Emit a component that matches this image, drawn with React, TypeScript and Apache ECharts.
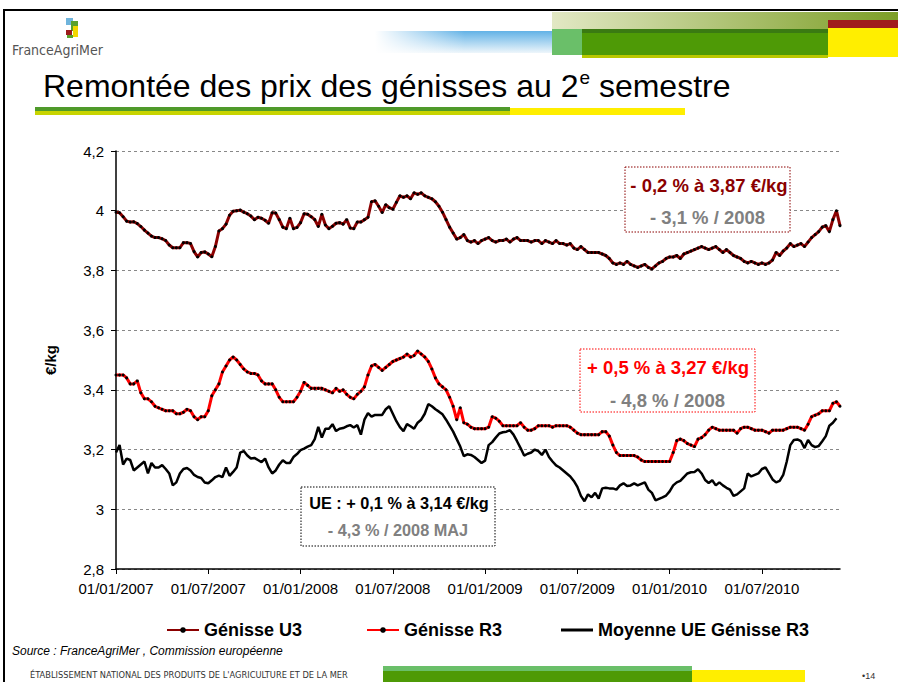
import React, { useEffect, useRef } from 'react';
import * as echarts from 'echarts';

// Tick labels on the x axis: one every 26 weeks
const tickLabels = ['01/01/2007', '01/07/2007', '01/01/2008', '01/07/2008', '01/01/2009', '01/07/2009', '01/01/2010', '01/07/2010'];
const weeksPerTick = 26;

const seriesNames = ['Génisse U3', 'Génisse R3', 'Moyenne UE Génisse R3'];

// Weekly prices, €/kg, from week of 01/01/2007
const genisseU3 = [
  3.995, 3.993, 3.98, 3.965, 3.962, 3.963, 3.957, 3.947, 3.935, 3.925,
  3.915, 3.91, 3.91, 3.906, 3.9, 3.885, 3.876, 3.876, 3.876, 3.893,
  3.893, 3.89, 3.863, 3.845, 3.86, 3.862, 3.855, 3.846, 3.88, 3.932,
  3.94, 3.955, 3.985, 3.998, 4.0, 4.002, 3.995, 3.99, 3.982, 3.97,
  3.978, 3.975, 3.968, 3.958, 3.993, 3.992, 3.97, 3.945, 3.94, 3.975,
  3.94, 3.944, 3.96, 3.99, 3.988, 3.98, 3.97, 3.947, 3.988, 3.952,
  3.94, 3.948, 3.958, 3.96, 3.955, 3.97, 3.942, 3.94, 3.962, 3.962,
  3.97, 3.978, 4.03, 4.033, 4.015, 3.994, 4.02, 4.01, 4.005, 4.028,
  4.05, 4.045, 4.05, 4.04, 4.06, 4.055, 4.06, 4.05, 4.045, 4.04,
  4.03, 4.015, 3.995, 3.97, 3.945, 3.925, 3.905, 3.91, 3.92, 3.9,
  3.895, 3.9, 3.89, 3.9, 3.905, 3.91, 3.9, 3.895, 3.9, 3.9,
  3.905, 3.895, 3.905, 3.91, 3.9, 3.9, 3.9, 3.895, 3.9, 3.9,
  3.89, 3.9, 3.895, 3.89, 3.9, 3.89, 3.89, 3.885, 3.89, 3.875,
  3.87, 3.88, 3.87, 3.86, 3.86, 3.86, 3.86, 3.855, 3.85, 3.84,
  3.825, 3.82, 3.825, 3.82, 3.83, 3.82, 3.815, 3.81, 3.815, 3.82,
  3.81, 3.805, 3.815, 3.825, 3.83, 3.84, 3.845, 3.845, 3.85, 3.84,
  3.855, 3.86, 3.865, 3.87, 3.875, 3.88, 3.875, 3.87, 3.875, 3.88,
  3.87, 3.86, 3.87, 3.86, 3.85, 3.845, 3.84, 3.83, 3.825, 3.83,
  3.825, 3.82, 3.825, 3.82, 3.825, 3.835, 3.86, 3.85, 3.865, 3.875,
  3.89, 3.88, 3.885, 3.89, 3.88, 3.895, 3.91, 3.92, 3.93, 3.945,
  3.95, 3.93, 3.97, 4.0, 3.95,
];

const genisseR3 = [
  3.45, 3.45, 3.45, 3.44, 3.42, 3.42, 3.43, 3.39, 3.37, 3.37,
  3.36, 3.345, 3.34, 3.335, 3.33, 3.33, 3.33, 3.32, 3.32, 3.325,
  3.335, 3.33, 3.31, 3.30, 3.31, 3.31, 3.33, 3.38, 3.40, 3.42,
  3.46, 3.48, 3.50, 3.51, 3.50, 3.485, 3.47, 3.46, 3.455, 3.455,
  3.45, 3.43, 3.42, 3.42, 3.42, 3.40, 3.375, 3.36, 3.36, 3.36,
  3.36, 3.375, 3.395, 3.425, 3.415, 3.405, 3.405, 3.405, 3.405, 3.40,
  3.395, 3.39, 3.405, 3.395, 3.40, 3.385, 3.375, 3.37, 3.385, 3.395,
  3.41, 3.45, 3.48, 3.485, 3.475, 3.465, 3.475, 3.485, 3.495, 3.50,
  3.505, 3.51, 3.52, 3.51, 3.515, 3.53, 3.52, 3.51, 3.495, 3.47,
  3.44, 3.42, 3.41, 3.40, 3.375, 3.345, 3.30, 3.34, 3.29, 3.285,
  3.275, 3.27, 3.27, 3.27, 3.27, 3.275, 3.31, 3.305, 3.295, 3.28,
  3.28, 3.28, 3.28, 3.28, 3.29, 3.275, 3.265, 3.265, 3.27, 3.28,
  3.28, 3.28, 3.28, 3.275, 3.28, 3.28, 3.28, 3.28, 3.275, 3.265,
  3.255, 3.25, 3.25, 3.25, 3.25, 3.25, 3.25, 3.26, 3.26, 3.245,
  3.215, 3.19, 3.18, 3.18, 3.18, 3.18, 3.18, 3.175, 3.165, 3.16,
  3.16, 3.16, 3.16, 3.16, 3.16, 3.16, 3.16, 3.19, 3.23, 3.235,
  3.23, 3.22, 3.215, 3.21, 3.235, 3.24, 3.25, 3.265, 3.275, 3.27,
  3.265, 3.265, 3.265, 3.265, 3.265, 3.255, 3.27, 3.275, 3.275, 3.27,
  3.265, 3.265, 3.265, 3.26, 3.255, 3.265, 3.265, 3.265, 3.265, 3.27,
  3.275, 3.275, 3.275, 3.27, 3.265, 3.285, 3.31, 3.315, 3.32, 3.33,
  3.33, 3.33, 3.355, 3.36, 3.345,
];

const moyenneUE = [
  3.19, 3.215, 3.15, 3.17, 3.165, 3.13, 3.14, 3.15, 3.16, 3.12,
  3.155, 3.14, 3.14, 3.148, 3.135, 3.12, 3.08, 3.09, 3.12, 3.135,
  3.138, 3.13, 3.115, 3.108, 3.105, 3.09, 3.087, 3.097, 3.108, 3.113,
  3.108, 3.14, 3.112, 3.125, 3.14, 3.19, 3.195, 3.18, 3.17, 3.172,
  3.165, 3.158, 3.17, 3.14, 3.12, 3.13, 3.15, 3.164, 3.155, 3.155,
  3.175, 3.185, 3.198, 3.203, 3.21, 3.215, 3.235, 3.276, 3.24, 3.27,
  3.27, 3.285, 3.262, 3.27, 3.272, 3.278, 3.282, 3.274, 3.282, 3.25,
  3.30, 3.322, 3.31, 3.316, 3.316, 3.316, 3.335, 3.345, 3.32, 3.295,
  3.275, 3.262, 3.285, 3.278, 3.27, 3.29, 3.30, 3.32, 3.352, 3.345,
  3.335, 3.327, 3.318, 3.30, 3.28, 3.26, 3.235, 3.21, 3.178, 3.184,
  3.182, 3.175, 3.165, 3.155, 3.163, 3.215, 3.225, 3.24, 3.254, 3.258,
  3.26, 3.265, 3.25, 3.228, 3.205, 3.18, 3.186, 3.19, 3.2, 3.195,
  3.182, 3.2, 3.175, 3.16, 3.147, 3.14, 3.13, 3.12, 3.11, 3.095,
  3.075, 3.045, 3.027, 3.05, 3.04, 3.055, 3.036, 3.07, 3.072, 3.07,
  3.07, 3.066, 3.08, 3.087, 3.078, 3.08, 3.087, 3.08, 3.085, 3.09,
  3.066, 3.055, 3.03, 3.035, 3.04, 3.046, 3.06, 3.08, 3.09, 3.095,
  3.108, 3.12, 3.124, 3.125, 3.134, 3.12, 3.098, 3.088, 3.097, 3.08,
  3.09, 3.08, 3.072, 3.066, 3.045, 3.05, 3.06, 3.07, 3.12, 3.11,
  3.115, 3.12, 3.135, 3.14, 3.12, 3.1, 3.09, 3.095, 3.115, 3.16,
  3.215, 3.232, 3.234, 3.228, 3.205, 3.232, 3.215, 3.208, 3.212, 3.228,
  3.245, 3.28, 3.29, 3.305,
];

const yMin = 2.8;
const yMax = 4.2;
const yStep = 0.2;

const F = "'Liberation Sans', Arial, Helvetica, sans-serif";
const FN = "'Liberation Sans Narrow', 'DejaVu Sans Condensed', 'Liberation Sans', sans-serif";

export default function App() {
  const ref = useRef<HTMLDivElement>(null);

  useEffect(() => {
    document.body.style.margin = '0';
    const chart = echarts.init(ref.current!, null, { renderer: 'svg' });
    const categories = genisseU3.map((_, i) => String(i));

    const titleSize = 32;
    const supSize = 19;
    const ctx = document.createElement('canvas').getContext('2d')!;
    ctx.font = `${titleSize}px ${F}`;
    const titleA = 'Remontée des prix des génisses au 2';
    const wA = ctx.measureText(titleA).width;
    ctx.font = `${supSize}px ${F}`;
    const wSup = ctx.measureText('e').width;
    const titleX = 43;

    const box = (x: number, y: number, w: number, h: number, stroke: string) => ({
      type: 'rect', z: 50, shape: { x, y, width: w, height: h },
      style: { fill: '#fff', stroke, lineWidth: 1, lineDash: [1.5, 1.5] },
    });
    const txt = (x: number, y: number, text: string, font: string, fill: string, align = 'center') => ({
      type: 'text', z: 51, x, y,
      style: { text, font, fill, align, verticalAlign: 'middle', textAlign: align, textVerticalAlign: 'middle' },
    });
    const rect = (x: number, y: number, w: number, h: number, fill: any) => ({
      type: 'rect', z: 40, shape: { x, y, width: w, height: h }, style: { fill },
    });

    const legendBase = {
      top: 621, padding: 0, itemWidth: 32,
      textStyle: { fontFamily: F, fontSize: 18, fontWeight: 'bold', color: '#000' },
      selectedMode: false,
    };

    chart.setOption({
      animation: false,
      backgroundColor: '#fff',
      grid: { left: 116, top: 151, right: 58, bottom: 113 },
      xAxis: {
        type: 'category',
        data: categories,
        boundaryGap: false,
        axisLine: { lineStyle: { color: '#000', width: 1.5 } },
        axisTick: { show: true, interval: weeksPerTick - 1, length: 5, lineStyle: { color: '#000' } },
        axisLabel: {
          interval: weeksPerTick - 1,
          formatter: (_v: string, i: number) => tickLabels[i / weeksPerTick] ?? '',
          fontFamily: F, fontSize: 15, color: '#000', margin: 12,
        },
        splitLine: { show: false },
      },
      yAxis: {
        type: 'value', min: yMin, max: yMax, interval: yStep,
        name: '€/kg', nameLocation: 'middle', nameRotate: 90, nameGap: 58,
        nameTextStyle: { fontFamily: F, fontSize: 15, fontWeight: 'bold', color: '#000' },
        axisLine: { show: true, lineStyle: { color: '#000', width: 1.5 } },
        axisTick: { show: true, length: 5, lineStyle: { color: '#000' } },
        axisLabel: {
          formatter: (v: number) => String(+v.toFixed(1)).replace('.', ','),
          fontFamily: F, fontSize: 15, color: '#000', margin: 12,
        },
        splitLine: { show: true, lineStyle: { color: '#888', type: [3, 3], width: 1 } },
      },
      legend: [
        { ...legendBase, left: 166, itemHeight: 7, data: [seriesNames[0]] },
        { ...legendBase, left: 366, itemHeight: 7, data: [seriesNames[1]] },
        { ...legendBase, left: 561, itemHeight: 3, data: [{ name: seriesNames[2], icon: 'rect' }] },
      ],
      series: [
        {
          name: seriesNames[0], type: 'line', data: genisseU3,
          symbol: 'circle', symbolSize: 3, showSymbol: true, showAllSymbol: true,
          lineStyle: { color: '#8B0000', width: 3 }, itemStyle: { color: '#000' },
          z: 3,
        },
        {
          name: seriesNames[1], type: 'line', data: genisseR3,
          symbol: 'circle', symbolSize: 3, showSymbol: true, showAllSymbol: true,
          lineStyle: { color: '#FF0000', width: 3 }, itemStyle: { color: '#000' },
          z: 3,
        },
        {
          name: seriesNames[2], type: 'line', data: moyenneUE,
          symbol: 'none', showSymbol: false,
          lineStyle: { color: '#000', width: 2.5 }, itemStyle: { color: '#000' },
          z: 2,
        },
      ],
      graphic: [
        // slide frame
        { type: 'line', z: 60, shape: { x1: 3, y1: 10, x2: 898, y2: 10 }, style: { stroke: '#000', lineWidth: 2 } },
        { type: 'line', z: 60, shape: { x1: 4, y1: 9, x2: 4, y2: 682 }, style: { stroke: '#000', lineWidth: 2 } },
        // header banner
        rect(375, 31, 177, 22, new echarts.graphic.LinearGradient(0, 0, 0, 1, [
          { offset: 0, color: '#62b2e6' }, { offset: 1, color: '#eef6fb' }])),
        rect(375, 31, 90, 22, new echarts.graphic.LinearGradient(0, 0, 1, 0, [
          { offset: 0, color: 'rgba(255,255,255,1)' }, { offset: 1, color: 'rgba(255,255,255,0)' }])),
        rect(552, 12, 346, 17, new echarts.graphic.LinearGradient(0, 0, 1, 0, [
          { offset: 0, color: '#e2e8c4' }, { offset: 1, color: '#7c9e26' }])),
        rect(552, 29, 30, 26, '#6abf69'),
        rect(582, 29, 246, 27, '#4e9a06'),
        rect(582, 29, 246, 4, '#3a7a12'),
        rect(582, 55, 246, 3, '#b9c800'),
        rect(828, 20, 70, 8, '#a01c1c'),
        rect(828, 28, 70, 29, '#ffee00'),
        // logo
        rect(66, 18, 7, 7, '#6fb4dc'),
        rect(71, 21, 7, 10, '#5aa02c'),
        rect(73, 26, 5, 11, '#f2d600'),
        rect(66, 30, 6, 5, '#9b1b1b'),
        rect(67, 35, 6, 3, '#5aa02c'),
        txt(12, 50, 'FranceAgriMer', `14px ${FN}`, '#555', 'left'),
        // title
        txt(titleX, 86, titleA, `${titleSize}px ${F}`, '#000', 'left'),
        txt(titleX + wA + 1, 77, 'e', `${supSize}px ${F}`, '#000', 'left'),
        txt(titleX + wA + 1 + wSup, 86, ' semestre', `${titleSize}px ${F}`, '#000', 'left'),
        rect(35, 107, 475, 4, '#4f9a2a'),
        rect(35, 111, 475, 4, '#c8d400'),
        rect(510, 108, 175, 7, '#ffee00'),
        // annotation boxes
        box(625, 167, 165, 65, '#8B0000'),
        txt(709, 185, '- 0,2 % à 3,87 €/kg', `bold 18.5px ${F}`, '#8B0000'),
        txt(707.5, 217, '- 3,1 % / 2008', `bold 18.5px ${F}`, '#808080'),
        box(580, 349, 175, 63, '#ff0000'),
        txt(668, 367, '+ 0,5 % à 3,27 €/kg', `bold 18.5px ${F}`, '#ff0000'),
        txt(667.5, 400, '- 4,8 % / 2008', `bold 18.5px ${F}`, '#808080'),
        box(301, 487, 194, 59, '#000'),
        txt(399, 503, 'UE : + 0,1 % à 3,14 €/kg', `bold 16.3px ${F}`, '#000'),
        txt(398, 530, '- 4,3 % / 2008 MAJ', `bold 16.3px ${F}`, '#808080'),
        // footer
        txt(12, 651, 'Source : FranceAgriMer , Commission européenne', `italic 12px ${F}`, '#000', 'left'),
        txt(30, 674, "ÉTABLISSEMENT NATIONAL DES PRODUITS DE L'AGRICULTURE ET DE LA MER", `9.2px ${FN}`, '#333', 'left'),
        rect(383, 666, 309, 16, '#4e9a06'),
        rect(383, 666, 309, 5, '#6abf69'),
        rect(692, 670, 113, 12, '#ffee00'),
        txt(862, 676, '•14', `9px ${F}`, '#333', 'left'),
      ],
    });

    return () => chart.dispose();
  }, []);

  return <div ref={ref} style={{ width: 898, height: 682 }} />;
}
